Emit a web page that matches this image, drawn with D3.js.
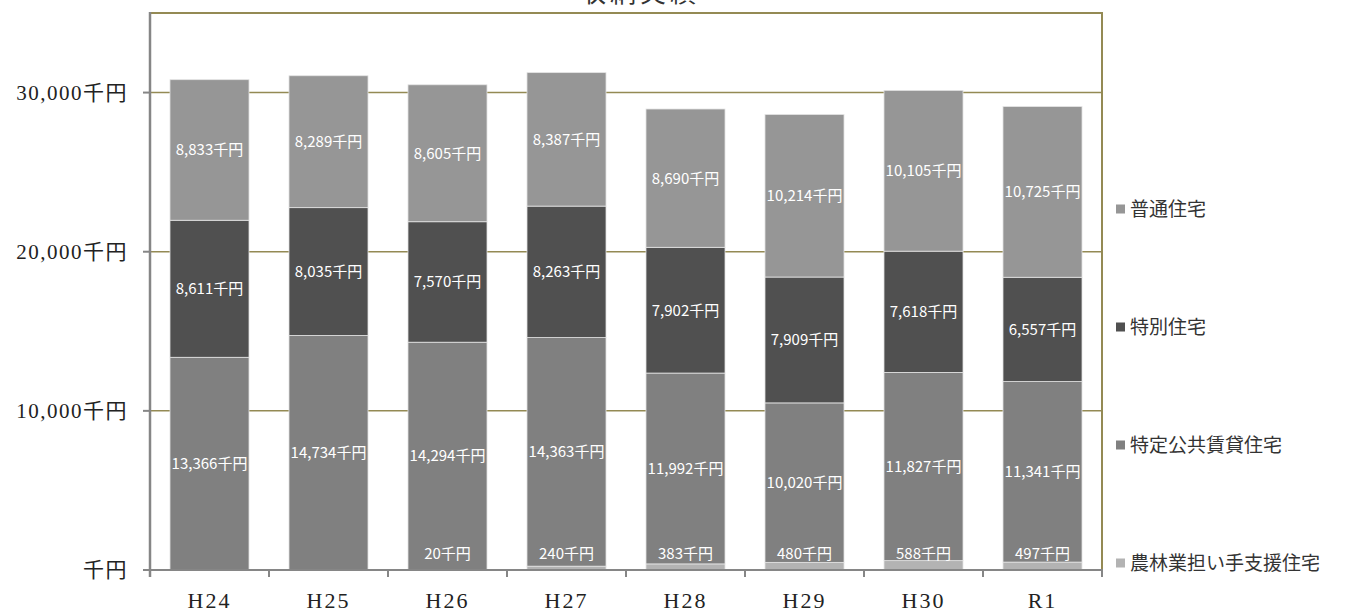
<!DOCTYPE html>
<html lang="ja">
<head>
<meta charset="utf-8">
<script src="https://cdn.jsdelivr.net/npm/d3@7"></script>
<style>
  html, body { margin: 0; padding: 0; background: #fff; }
  svg { display: block; }
</style>
</head>
<body>
<svg id="chart" width="1345" height="613"></svg>
<script>
// 年度
const categories = ["H24", "H25", "H26", "H27", "H28", "H29", "H30", "R1"];

// 各住宅区分の実績（千円）
const seriesNames = ["農林業担い手支援住宅", "特定公共賃貸住宅", "特別住宅", "普通住宅"];
const nourin   = [0, 0, 20, 240, 383, 480, 588, 497];
const tokutei  = [13366, 14734, 14294, 14363, 11992, 10020, 11827, 11341];
const tokubetsu = [8611, 8035, 7570, 8263, 7902, 7909, 7618, 6557];
const futsuu   = [8833, 8289, 8605, 8387, 8690, 10214, 10105, 10725];

// 縦軸目盛
const yTicks = [0, 10000, 20000, 30000];
const yTickLabels = ["千円", "10,000千円", "20,000千円", "30,000千円"];

const title = "収納実績";

const colors = ["#b3b3b3", "#808080", "#505050", "#969696"];

const svg = d3.select("#chart");
const plot = { left: 150, right: 1102, top: 13, bottom: 570 };

const x = d3.scaleBand()
  .domain(categories)
  .range([plot.left, plot.right])
  .paddingInner(0.336)
  .paddingOuter(0.168);

const y = d3.scaleLinear()
  .domain([0, 35000])
  .range([plot.bottom, plot.top]);

// 積み上げ用テーブル
const rows = categories.map((c, i) => ({
  cat: c,
  [seriesNames[0]]: nourin[i],
  [seriesNames[1]]: tokutei[i],
  [seriesNames[2]]: tokubetsu[i],
  [seriesNames[3]]: futsuu[i]
}));
const stacked = d3.stack().keys(seriesNames)(rows);

// タイトル（上端）
svg.append("text")
  .attr("x", 640).attr("y", 2)
  .attr("text-anchor", "middle")
  .attr("font-family", "'Noto Sans CJK JP', sans-serif")
  .attr("font-size", 26)
  .attr("letter-spacing", 4)
  .attr("fill", "#333")
  .text(title);

// 目盛線
const gridColor = "#948a54";
svg.append("g").selectAll("line")
  .data(yTicks.filter(d => d > 0))
  .join("line")
  .attr("x1", plot.left).attr("x2", plot.right)
  .attr("y1", d => y(d)).attr("y2", d => y(d))
  .attr("stroke", gridColor).attr("stroke-width", 1.5);

// 枠（上・右）
svg.append("line")
  .attr("x1", plot.left).attr("x2", plot.right + 1)
  .attr("y1", y(35000)).attr("y2", y(35000))
  .attr("stroke", gridColor).attr("stroke-width", 2);
svg.append("line")
  .attr("x1", plot.right).attr("x2", plot.right)
  .attr("y1", y(35000)).attr("y2", plot.bottom)
  .attr("stroke", gridColor).attr("stroke-width", 2);

// 棒
const layers = svg.append("g").selectAll("g")
  .data(stacked)
  .join("g")
  .attr("fill", (d, i) => colors[i]);

layers.selectAll("rect")
  .data(d => d.map(v => ({ v, cat: v.data.cat })))
  .join("rect")
  .attr("x", d => x(d.cat))
  .attr("width", x.bandwidth())
  .attr("y", d => y(d.v[1]))
  .attr("height", d => y(d.v[0]) - y(d.v[1]))
  .attr("stroke", "#e4e4e4")
  .attr("stroke-width", 0.8);

// データラベル
const fmt = d3.format(",");
const labelG = svg.append("g")
  .attr("font-family", "'Noto Sans CJK JP', sans-serif")
  .attr("font-size", 15)
  .attr("fill", "#fff")
  .attr("text-anchor", "middle");

stacked.forEach((layer, li) => {
  layer.forEach(v => {
    const val = v[1] - v[0];
    if (!val) return;
    let cy = (y(v[0]) + y(v[1])) / 2;
    cy = Math.min(cy, plot.bottom - 16);
    labelG.append("text")
      .attr("x", x(v.data.cat) + x.bandwidth() / 2)
      .attr("y", cy)
      .attr("dy", "0.36em")
      .text(fmt(val) + "千円");
  });
});

// 縦軸
const axisColor = "#868686";
svg.append("line")
  .attr("x1", plot.left).attr("x2", plot.left)
  .attr("y1", plot.top - 1).attr("y2", plot.bottom + 7)
  .attr("stroke", axisColor).attr("stroke-width", 2.5);
svg.append("g").selectAll("line")
  .data(yTicks)
  .join("line")
  .attr("x1", plot.left - 7).attr("x2", plot.left)
  .attr("y1", d => y(d)).attr("y2", d => y(d))
  .attr("stroke", axisColor).attr("stroke-width", 2);
svg.append("g").selectAll("text")
  .data(yTicks)
  .join("text")
  .attr("x", 128)
  .attr("y", d => y(d))
  .attr("dy", "0.35em")
  .attr("text-anchor", "end")
  .attr("font-family", "'Liberation Serif', 'Noto Sans CJK JP', serif")
  .attr("font-size", 21)
  .attr("letter-spacing", 1.5)
  .attr("fill", "#222")
  .text((d, i) => yTickLabels[i]);

// 横軸
svg.append("line")
  .attr("x1", plot.left - 7).attr("x2", plot.right + 1)
  .attr("y1", plot.bottom).attr("y2", plot.bottom)
  .attr("stroke", axisColor).attr("stroke-width", 2);
const boundaries = categories.map(c => x(c) - x.step() * x.paddingInner() / 2).concat([plot.right]);
svg.append("g").selectAll("line")
  .data(boundaries)
  .join("line")
  .attr("x1", d => d).attr("x2", d => d)
  .attr("y1", plot.bottom).attr("y2", plot.bottom + 7)
  .attr("stroke", axisColor).attr("stroke-width", 2);
svg.append("g").selectAll("text")
  .data(categories)
  .join("text")
  .attr("x", d => x(d) + x.bandwidth() / 2)
  .attr("y", 600)
  .attr("dy", "0.35em")
  .attr("text-anchor", "middle")
  .attr("font-family", "'Liberation Serif', serif")
  .attr("font-size", 22)
  .attr("letter-spacing", 2)
  .attr("fill", "#222")
  .text(d => d);

// 凡例（上から逆順）
const legendItems = seriesNames.map((n, i) => ({ name: n, color: colors[i] })).reverse();
const legend = svg.append("g")
  .selectAll("g")
  .data(legendItems)
  .join("g")
  .attr("transform", (d, i) => `translate(1116, ${209 + i * 118})`);
legend.append("rect")
  .attr("x", 0).attr("y", -4.5)
  .attr("width", 9).attr("height", 9)
  .attr("fill", d => d.color);
legend.append("text")
  .attr("x", 14).attr("y", 0)
  .attr("dy", "0.36em")
  .attr("font-family", "'Noto Sans CJK JP', sans-serif")
  .attr("font-size", 19)
  .attr("fill", "#333")
  .text(d => d.name);
</script>
</body>
</html>
